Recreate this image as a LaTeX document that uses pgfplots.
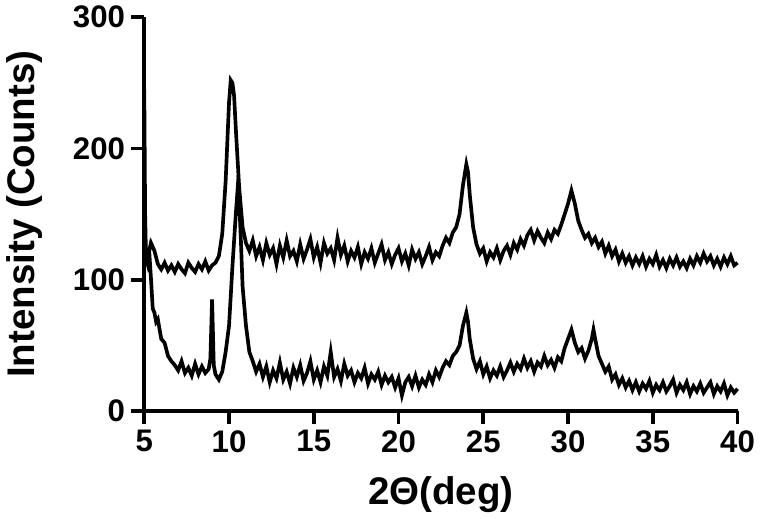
\documentclass[border=0pt]{standalone}
\usepackage{pgfplots}
\pgfplotsset{compat=1.18}
\usepackage{fontspec}
\setmainfont{Liberation Sans}
\begin{document}
\begin{tikzpicture}
\begin{axis}[
  scale only axis, width=11.37cm, height=7.55cm,
  xmin=5, xmax=40, ymin=0, ymax=300,
  axis x line*=bottom, axis y line*=left,
  axis line style={line width=2pt},
  tick style={line width=2pt, black},
  tick align=outside, major tick length=7pt,
  xtick={5,10,...,40}, ytick={0,100,200,300},
  /pgf/number format/assume math mode=true,
  ticklabel style={font=\fontsize{17}{20}\selectfont\bfseries},
  xlabel={2Θ(deg)}, ylabel={Intensity (Counts)},
  label style={font=\fontsize{21}{25}\selectfont\bfseries},
  ylabel style={yshift=10pt}, xlabel style={yshift=-6pt},
  clip=false,
]
\addplot[black, line width=2pt] coordinates {
(5.0,245)(5.05,150)(5.1,120)(5.2,118)(5.4,128)(5.6,122)(5.8,112)(6.0,108)(6.2,113)(6.4,107)(6.6,111)(6.8,106)(7.0,112)(7.2,108)(7.4,105)(7.6,113)(7.8,109)(8.0,106)(8.2,112)(8.4,108)(8.6,114)(8.8,107)(9.0,111)(9.2,113)(9.4,118)(9.6,135)(9.8,175)(10.0,235)(10.1,252)(10.2,250)(10.3,240)(10.4,215)(10.6,170)(10.8,140)(11.0,128)(11.2,122)(11.4,130)(11.6,118)(11.8,125)(12.0,115)(12.2,128)(12.4,119)(12.6,124)(12.8,112)(13.0,126)(13.2,117)(13.4,130)(13.6,118)(13.8,122)(14.0,114)(14.2,127)(14.4,116)(14.6,123)(14.8,131)(15.0,117)(15.2,125)(15.4,113)(15.6,128)(15.8,120)(16.0,124)(16.2,115)(16.4,132)(16.6,119)(16.8,126)(17.0,114)(17.2,122)(17.4,117)(17.6,125)(17.8,112)(18.0,121)(18.2,116)(18.4,124)(18.6,113)(18.8,120)(19.0,127)(19.2,115)(19.4,121)(19.6,112)(19.8,119)(20.0,124)(20.2,114)(20.4,120)(20.6,111)(20.8,123)(21.0,116)(21.2,121)(21.4,112)(21.6,118)(21.8,125)(22.0,115)(22.2,121)(22.4,118)(22.6,126)(22.8,132)(23.0,128)(23.2,136)(23.4,140)(23.6,150)(23.8,172)(24.0,188)(24.1,182)(24.2,165)(24.4,140)(24.6,127)(24.8,120)(25.0,124)(25.2,114)(25.4,121)(25.6,117)(25.8,124)(26.0,115)(26.2,122)(26.4,126)(26.6,119)(26.8,128)(27.0,123)(27.2,131)(27.4,126)(27.6,134)(27.8,138)(28.0,130)(28.2,137)(28.4,132)(28.6,128)(28.8,136)(29.0,131)(29.2,138)(29.4,135)(29.6,142)(29.8,150)(30.0,158)(30.2,168)(30.4,158)(30.6,145)(30.8,138)(31.0,132)(31.2,135)(31.4,128)(31.6,132)(31.8,125)(32.0,129)(32.2,120)(32.4,126)(32.6,118)(32.8,123)(33.0,114)(33.2,120)(33.4,113)(33.6,118)(33.8,111)(34.0,117)(34.2,112)(34.4,118)(34.6,110)(34.8,116)(35.0,112)(35.2,119)(35.4,110)(35.6,115)(35.8,109)(36.0,116)(36.2,111)(36.4,117)(36.6,110)(36.8,114)(37.0,109)(37.2,116)(37.4,111)(37.6,118)(37.8,113)(38.0,120)(38.2,114)(38.4,118)(38.6,111)(38.8,116)(39.0,110)(39.2,117)(39.4,112)(39.6,118)(39.8,111)(40.0,113)
};
\addplot[black, line width=2pt] coordinates {
(5.0,122)(5.1,117)(5.2,112)(5.3,120)(5.4,100)(5.5,78)(5.6,75)(5.7,68)(5.8,70)(6.0,55)(6.2,52)(6.4,42)(6.6,38)(6.8,35)(7.0,31)(7.2,38)(7.4,29)(7.6,33)(7.8,27)(8.0,36)(8.2,28)(8.4,34)(8.6,29)(8.8,32)(8.9,40)(9.0,85)(9.1,35)(9.2,28)(9.4,24)(9.6,30)(9.8,45)(10.0,65)(10.2,110)(10.4,150)(10.5,168)(10.6,160)(10.7,130)(10.8,95)(11.0,65)(11.2,45)(11.4,38)(11.6,30)(11.8,36)(12.0,26)(12.2,34)(12.4,22)(12.6,31)(12.8,25)(13.0,37)(13.2,24)(13.4,30)(13.6,21)(13.8,33)(14.0,26)(14.2,35)(14.4,23)(14.6,29)(14.8,38)(15.0,24)(15.2,31)(15.4,22)(15.6,34)(15.8,27)(16.0,45)(16.2,26)(16.4,32)(16.6,23)(16.8,36)(17.0,27)(17.2,31)(17.4,22)(17.6,29)(17.8,25)(18.0,33)(18.2,21)(18.4,28)(18.6,24)(18.8,30)(19.0,20)(19.2,27)(19.4,22)(19.6,26)(19.8,18)(20.0,25)(20.2,12)(20.4,22)(20.6,26)(20.8,19)(21.0,27)(21.2,18)(21.4,24)(21.6,20)(21.8,28)(22.0,22)(22.2,31)(22.4,26)(22.6,33)(22.8,38)(23.0,35)(23.2,42)(23.4,45)(23.6,50)(23.8,65)(24.0,75)(24.1,68)(24.2,55)(24.4,40)(24.6,32)(24.8,38)(25.0,28)(25.2,34)(25.4,25)(25.6,31)(25.8,27)(26.0,34)(26.2,26)(26.4,31)(26.6,37)(26.8,30)(27.0,36)(27.2,32)(27.4,40)(27.6,33)(27.8,38)(28.0,30)(28.2,37)(28.4,34)(28.6,42)(28.8,35)(29.0,39)(29.2,33)(29.4,41)(29.6,38)(29.8,48)(30.0,55)(30.2,62)(30.4,52)(30.6,45)(30.8,48)(31.0,40)(31.2,46)(31.4,55)(31.5,62)(31.6,55)(31.8,42)(32.0,36)(32.2,30)(32.4,34)(32.6,24)(32.8,28)(33.0,20)(33.2,25)(33.4,18)(33.6,23)(33.8,16)(34.0,22)(34.2,15)(34.4,21)(34.6,17)(34.8,23)(35.0,14)(35.2,20)(35.4,16)(35.6,22)(35.8,15)(36.0,19)(36.2,24)(36.4,14)(36.6,20)(36.8,16)(37.0,22)(37.2,13)(37.4,19)(37.6,15)(37.8,21)(38.0,14)(38.2,18)(38.4,22)(38.6,13)(38.8,19)(39.0,15)(39.2,21)(39.4,12)(39.6,18)(39.8,14)(40.0,17)
};
\end{axis}
\end{tikzpicture}
\end{document}
